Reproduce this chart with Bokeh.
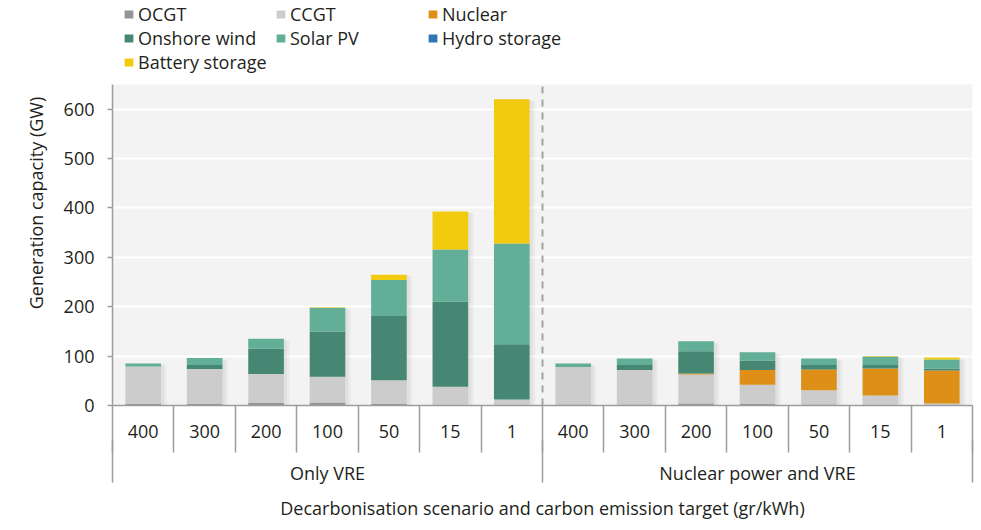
from bokeh.plotting import figure
from bokeh.models import (Range1d, FixedTicker, LinearAxis, Legend, LegendItem,
                          ColumnDataSource, Grid, BoxAnnotation)
from bokeh.embed import file_html
from bokeh.resources import INLINE

# ---------------- data ----------------
targets = ["400", "300", "200", "100", "50", "15", "1"]
groups = ["Only VRE", "Nuclear power and VRE"]
series = ["OCGT", "CCGT", "Nuclear", "Onshore wind", "Solar PV",
          "Hydro storage", "Battery storage"]
colors = ["#959595", "#cccccc", "#de8f18", "#458772", "#63ae96",
          "#2e75b6", "#f2cb0e"]

# Only VRE (400 .. 1) followed by Nuclear power and VRE (400 .. 1), GW
ocgt = [3, 3, 5, 6, 3, 1, 1] + [2, 2, 4, 3, 2, 1, 1]
ccgt = [76, 71, 59, 52, 48, 37, 11] + [76, 70, 59, 39, 29, 19, 3]
nuclear = [0, 0, 0, 0, 0, 0, 0] + [0, 0, 2, 30, 42, 55, 67]
onshore_wind = [0, 8, 51, 92, 130, 172, 112] + [0, 10, 45, 19, 9, 7, 4]
solar_pv = [6, 14, 20, 48, 73, 106, 204] + [7, 13, 20, 17, 13, 17, 18]
hydro_storage = [0, 0, 0, 0, 0, 0, 0] + [0, 0, 0, 0, 0, 0, 0]
battery_storage = [0, 0, 0, 1, 11, 77, 292] + [0, 0, 0, 0, 0, 1, 4]

y_ticks = [0, 100, 200, 300, 400, 500, 600]
y_max = 650          # top of the plotting area
y_label = "Generation capacity (GW)"
x_label = "Decarbonisation scenario and carbon emission target (gr/kWh)"

# ---------------- style / layout ----------------
FONT = "Open Sans"
TXT = "#231f20"
AXC = "#9d9d9d"
FIG_W, FIG_H = 981, 530
BOTTOM = 125         # px below the plotting area
FRAME_H = FIG_H - BOTTOM
PLOT_H = 321         # px used by 0..y_max

n = len(targets) * len(groups)
xs = list(range(1, n + 1))
boundaries = [i + 0.5 for i in range(0, n + 1)]
group_centers = [(len(targets) + 1) / 2 + k * len(targets) for k in range(len(groups))]
group_bounds = [0.5 + k * len(targets) for k in range(len(groups) + 1)]

values = [ocgt, ccgt, nuclear, onshore_wind, solar_pv, hydro_storage, battery_storage]
data = dict(x=xs)
for name, v in zip(series, values):
    data[name] = v
source = ColumnDataSource(data)
totals = [sum(col) for col in zip(*values)]

p = figure(width=FIG_W, height=FIG_H,
           x_range=Range1d(0.5, n + 0.5),
           y_range=Range1d(0, y_max * FRAME_H / PLOT_H),
           x_axis_type=None, y_axis_type=None,
           output_backend="svg", toolbar_location=None,
           min_border_left=112, min_border_right=9, min_border_top=0,
           min_border_bottom=BOTTOM)
p.background_fill_color = "white"
p.border_fill_color = "white"
p.outline_line_color = None

bg = BoxAnnotation(bottom=0, top=y_max, left=0.5, right=n + 0.5,
                   fill_color="#f3f3f3", fill_alpha=1, line_color=None,
                   level="image")
p.add_layout(bg)

grid = Grid(dimension=1, ticker=FixedTicker(ticks=y_ticks),
            grid_line_color="white", grid_line_width=2)
p.add_layout(grid, "center")

# soft shadows to the right of the bars
W = 0.58
p.vbar(x=[x + 0.09 for x in xs], top=[t - 4 for t in totals], bottom=0, width=W,
       fill_color="black", fill_alpha=0.035, line_color=None)
p.vbar(x=[x + 0.05 for x in xs], top=[t - 2 for t in totals], bottom=0, width=W,
       fill_color="black", fill_alpha=0.04, line_color=None)

renderers = p.vbar_stack(series, x="x", width=W, color=colors, source=source,
                         line_color=None)

# dashed divider between the two scenarios
p.segment(x0=[group_bounds[1]], y0=[0], x1=[group_bounds[1]], y1=[y_max],
          line_color="#a3a3a3", line_width=2, line_dash="7 6")

# y axis
yax = LinearAxis(ticker=FixedTicker(ticks=y_ticks, minor_ticks=[]),
                 bounds=(0, y_max),
                 axis_label=y_label,
                 axis_line_color=AXC, axis_line_width=1.5,
                 major_tick_line_color=AXC, major_tick_line_width=1.5,
                 major_tick_out=5, major_tick_in=0,
                 minor_tick_out=0, minor_tick_in=0,
                 major_label_standoff=13,
                 major_label_text_font=FONT, major_label_text_font_size="18px",
                 major_label_text_color=TXT,
                 axis_label_standoff=13,
                 axis_label_text_font=FONT, axis_label_text_font_size="18px",
                 axis_label_text_font_style="normal", axis_label_text_color=TXT)
p.add_layout(yax, "left")

# x axis: targets with separators
ax1 = LinearAxis(ticker=FixedTicker(ticks=xs, minor_ticks=boundaries),
                 major_label_overrides={x: targets[(x - 1) % len(targets)] for x in xs},
                 axis_line_color=AXC, axis_line_width=1.5,
                 major_tick_out=0, major_tick_in=0,
                 minor_tick_out=47, minor_tick_in=0,
                 minor_tick_line_color=AXC, minor_tick_line_width=1.5,
                 major_label_standoff=-28,
                 major_label_text_font=FONT, major_label_text_font_size="18px",
                 major_label_text_color=TXT)
p.add_layout(ax1, "below")

# x axis: scenario groups + axis title
ax2 = LinearAxis(ticker=FixedTicker(ticks=group_centers, minor_ticks=group_bounds),
                 major_label_overrides={c: g for c, g in zip(group_centers, groups)},
                 axis_line_color=None,
                 major_tick_out=0, major_tick_in=0,
                 minor_tick_out=42, minor_tick_in=0,
                 minor_tick_line_color=AXC, minor_tick_line_width=1.5,
                 major_label_standoff=-22,
                 major_label_text_font=FONT, major_label_text_font_size="18px",
                 major_label_text_color=TXT,
                 axis_label=x_label, axis_label_standoff=8,
                 axis_label_text_font=FONT, axis_label_text_font_size="18px",
                 axis_label_text_font_style="normal", axis_label_text_color=TXT)
p.add_layout(ax2, "below")

legend = Legend(items=[LegendItem(label=s, renderers=[r]) for s, r in zip(series, renderers)],
                orientation="horizontal", ncols=3,
                location=(11, FRAME_H - 2 - 72),
                glyph_width=11, glyph_height=10, label_standoff=4,
                label_width=137, label_height=18, spacing=0,
                padding=0, margin=0, border_line_color=None,
                background_fill_alpha=0,
                label_text_font=FONT, label_text_font_size="18px",
                label_text_color=TXT)
p.add_layout(legend, "center")

open("out.html", "w").write(file_html(p, INLINE))
